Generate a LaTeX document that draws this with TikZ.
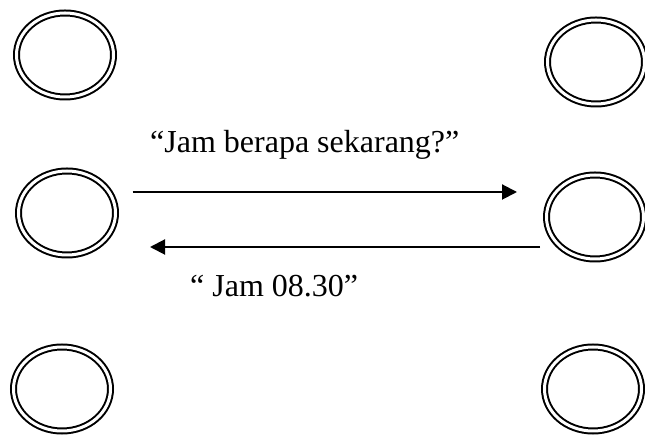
\documentclass[tikz,border=0pt]{standalone}
\usepackage{fontspec}
\setmainfont{Liberation Serif}
\usetikzlibrary{arrows.meta,shapes.geometric}
\begin{document}
\begin{tikzpicture}[x=1bp,y=1bp,
  agent/.style={ellipse, draw, double, line width=2bp, double distance=3bp,
    minimum width=97bp, minimum height=84bp, inner sep=0pt},
  msg/.style={-{Triangle[length=15bp,width=15bp]}, line width=2bp},
  said/.style={anchor=base west, inner sep=0pt, font=\fontsize{32bp}{38bp}\selectfont}]
  \useasboundingbox (0,0) rectangle (645,436);
  % six agents in two columns
  \node[agent] (tl) at (65,381) {};
  \node[agent] (tr) at (596,374) {};
  \node[agent] (ml) at (67,223) {};
  \node[agent] (mr) at (595,219) {};
  \node[agent] (bl) at (62,47) {};
  \node[agent] (br) at (593,47) {};
  % question and answer between the middle pair
  \draw[msg] ([shift={(16,21)}]ml.east) -- ([shift={(-28.5,25)}]mr.west);
  \draw[msg] ([shift={(-5.5,-30)}]mr.west) -- ([shift={(33.5,-34)}]ml.east);
  \node[said] (q) at (150,283) {“Jam berapa sekarang?”};
  \node[said] (a) at (190,139) {“ Jam 08.30”};
\end{tikzpicture}
\end{document}
